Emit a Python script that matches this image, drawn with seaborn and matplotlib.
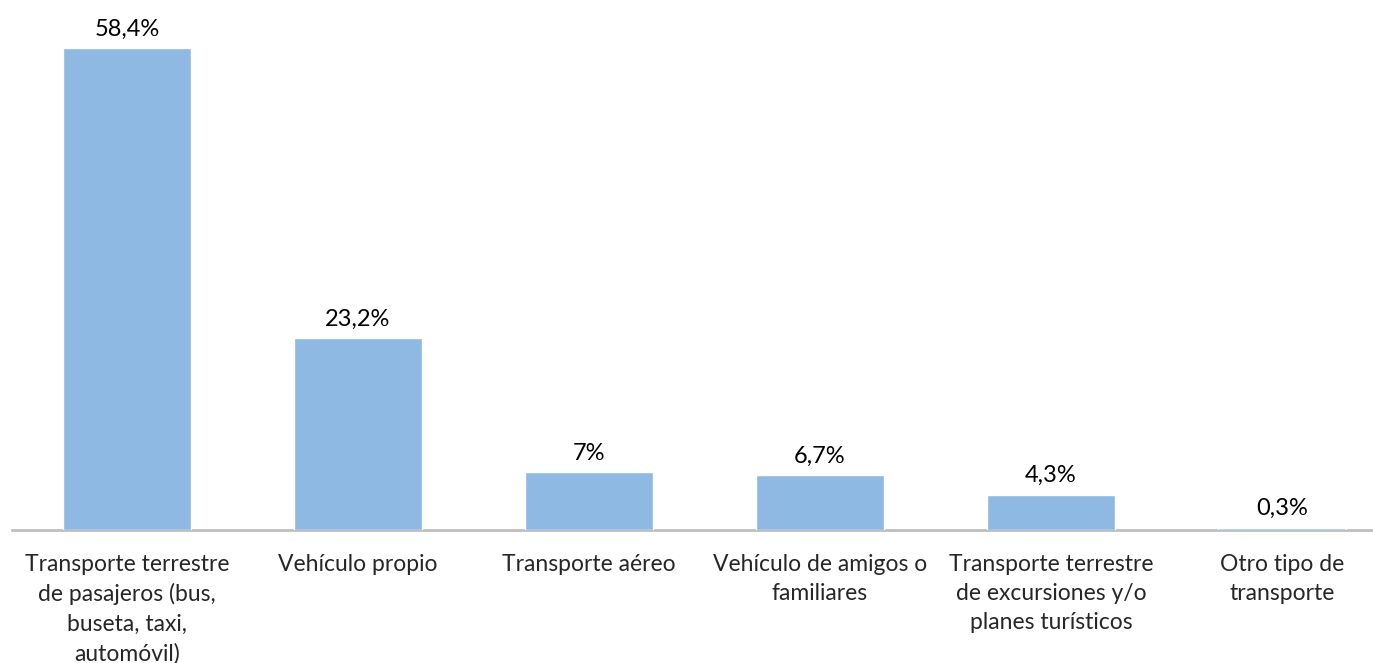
import matplotlib
matplotlib.use("Agg")
import matplotlib.pyplot as plt
import seaborn as sns
import pandas as pd

# Datos
categorias = [
    "Transporte terrestre\nde pasajeros (bus,\nbuseta, taxi,\nautomóvil)",
    "Vehículo propio",
    "Transporte aéreo",
    "Vehículo de amigos o\nfamiliares",
    "Transporte terrestre\nde excursiones y/o\nplanes turísticos",
    "Otro tipo de\ntransporte",
]
valores = [58.4, 23.2, 7.0, 6.7, 4.3, 0.3]
etiquetas = ["58,4%", "23,2%", "7%", "6,7%", "4,3%", "0,3%"]

BAR_COLOR = "#8DB9E2"

df = pd.DataFrame({"categoria": categorias, "valor": valores})

sns.set_style("white")
plt.rcParams["font.family"] = ["Lato", "DejaVu Sans"]

fig = plt.figure(figsize=(13.73, 6.63), dpi=100)
ax = fig.add_axes([11.5 / 1373, 133 / 663, 1 - 11.5 / 1373, 530 / 663])

sns.barplot(data=df, x="categoria", y="valor", color=BAR_COLOR,
            saturation=1, width=0.554, ax=ax, zorder=3)

for i, (v, t) in enumerate(zip(valores, etiquetas)):
    ax.text(i, v + 1.0, t, ha="center", va="bottom", fontsize=17, color="black")

ax.set_xlim(-0.5, 5.394)
ax.set_ylim(0, 64.2)
ax.set_xlabel("")
ax.set_ylabel("")
ax.set_yticks([])
ax.tick_params(axis="x", length=0, pad=17, labelsize=16.5)
for lbl in ax.get_xticklabels():
    lbl.set_linespacing(1.48)

for s in ["top", "right", "left"]:
    ax.spines[s].set_visible(False)
ax.spines["bottom"].set_color("#BFBFBF")
ax.spines["bottom"].set_linewidth(2)
ax.spines["bottom"].set_zorder(1)

fig.savefig("out.png", dpi=100)
